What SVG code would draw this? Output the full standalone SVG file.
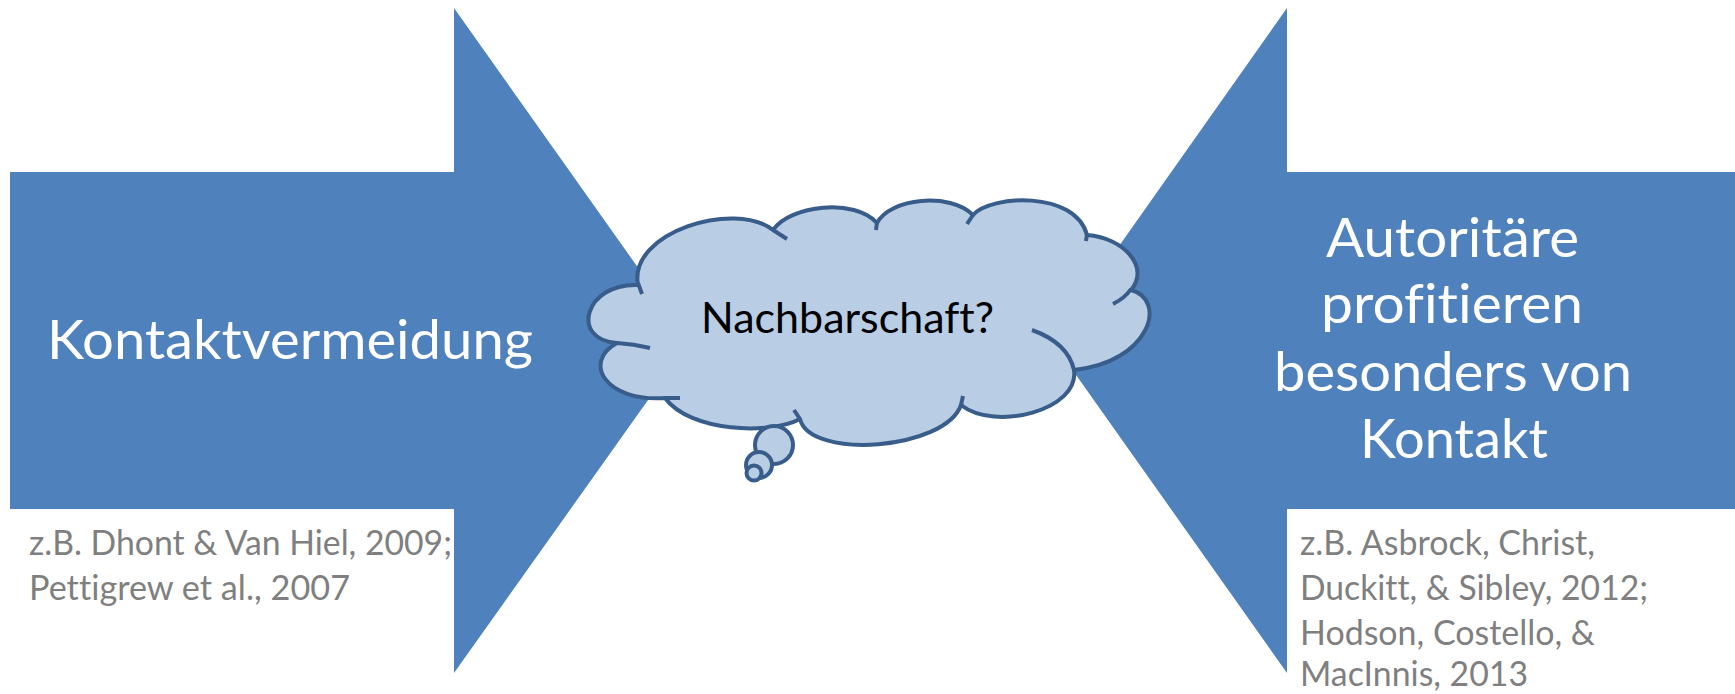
<svg xmlns="http://www.w3.org/2000/svg" width="1735" height="694" viewBox="0 0 1735 694">
<style>
.arrow{fill:#4f81bd;stroke:none}
.cloud{fill:#b9cde5;stroke:#385d8a;stroke-width:4;stroke-linejoin:round}
.notch{fill:none;stroke:#385d8a;stroke-width:4;stroke-linecap:butt}
text{font-variant-ligatures:none;font-feature-settings:"liga" 0,"clig" 0}
.main{font-family:Lato,"Open Sans",sans-serif;font-size:55px;fill:#ffffff}
.ref{font-family:Lato,"Open Sans",sans-serif;font-size:34px;fill:#7f7f7f}
.ctext{font-family:Lato,"Open Sans",sans-serif;font-size:42px;fill:#000000}
</style>
<rect width="1735" height="694" fill="#ffffff"/>
<g id="arrow-left">
<polygon class="arrow" points="10,172 454,172 454,8 690,341 454,673 454,509 10,509"/>
<text class="main" x="47" y="359" textLength="486" lengthAdjust="spacingAndGlyphs">Kontaktvermeidung</text>
</g>
<g id="refs-left">
<text class="ref" x="29" y="555" textLength="423" lengthAdjust="spacingAndGlyphs">z.B. Dhont &amp; Van Hiel, 2009;</text>
<text class="ref" x="29" y="600" textLength="321" lengthAdjust="spacingAndGlyphs">Pettigrew et al., 2007</text>
</g>
<g id="arrow-right">
<polygon class="arrow" points="1735,172 1287,172 1287,8 1052,341 1287,673 1287,509 1735,509"/>
<text class="main" x="1326" y="257" textLength="253" lengthAdjust="spacingAndGlyphs">Autoritäre</text>
<text class="main" x="1321" y="323" textLength="262" lengthAdjust="spacingAndGlyphs">profitieren</text>
<text class="main" x="1274" y="391" textLength="358" lengthAdjust="spacingAndGlyphs">besonders von</text>
<text class="main" x="1360" y="458" textLength="188" lengthAdjust="spacingAndGlyphs">Kontakt</text>
</g>
<g id="refs-right">
<text class="ref" x="1300" y="555" textLength="295" lengthAdjust="spacingAndGlyphs">z.B. Asbrock, Christ,</text>
<text class="ref" x="1300" y="600" textLength="348" lengthAdjust="spacingAndGlyphs">Duckitt, &amp; Sibley, 2012;</text>
<text class="ref" x="1300" y="645" textLength="295" lengthAdjust="spacingAndGlyphs">Hodson, Costello, &amp;</text>
<text class="ref" x="1300" y="686" textLength="228" lengthAdjust="spacingAndGlyphs">MacInnis, 2013</text>
</g>
<g id="cloud">
<path class="cloud" d="M638,285 C628,232 735,200 773,230 C790,205 855,198 877,223 C890,198 950,192 973,215 C990,195 1075,190 1087,235 C1125,238 1150,268 1131,290 C1168,300 1150,362 1074,370 C1080,410 995,432 961,405 C945,450 810,460 800,419 C770,435 690,432 665,398 C605,402 582,362 617,343 C570,340 584,283 638,285 Z"/>
<path class="notch" d="M638,283 L642,294 M773,230 L787,239 M877,222 L876,230 M973,215 L967,224 M1087,234 L1086,241 M1131,289 Q1125,298 1113,304 M1074,370 Q1068,343 1032,330 M961,405 L963,396 M800,419 L794,410 M665,398 L680,398 M617,343 Q634,344 650,348"/>
<circle class="cloud" cx="774" cy="445" r="19"/>
<circle class="cloud" cx="759" cy="465" r="13"/>
<circle class="cloud" cx="754" cy="473" r="7.5"/>
<text class="ctext" x="701" y="333" textLength="293" lengthAdjust="spacingAndGlyphs">Nachbarschaft?</text>
</g>
</svg>
